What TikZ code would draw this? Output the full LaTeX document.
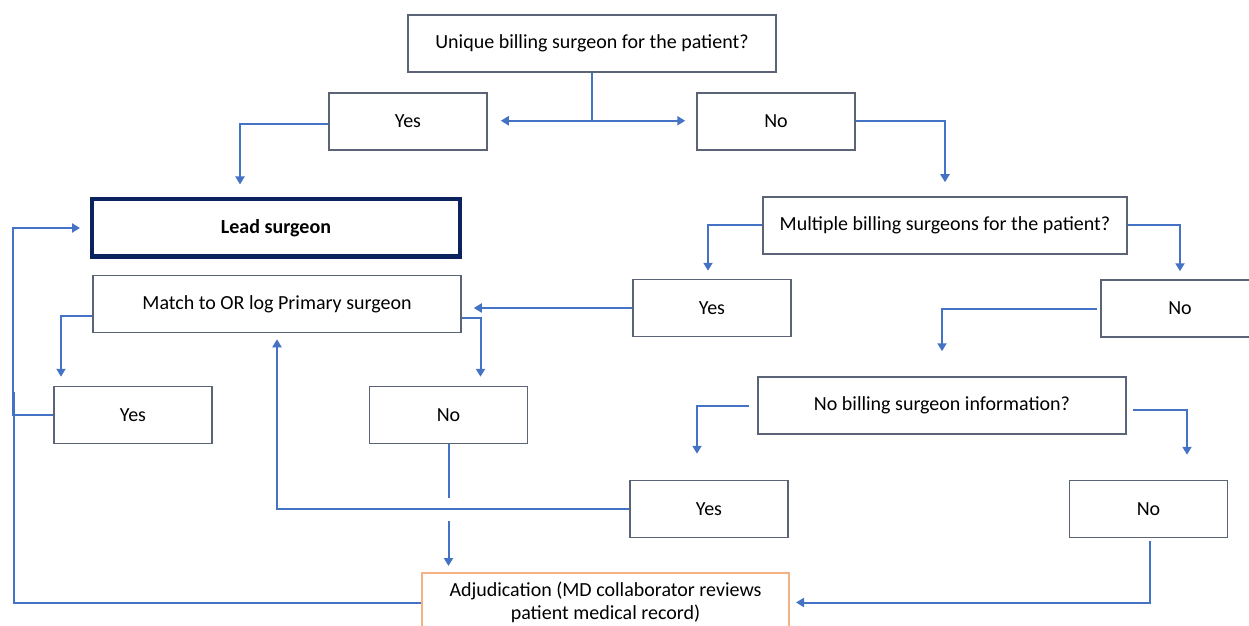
\documentclass[tikz,border=0pt]{standalone}
\usepackage{fontspec}
\setmainfont{Carlito}
\usetikzlibrary{arrows.meta}
\definecolor{flowblue}{RGB}{68,114,196}
\definecolor{flowgray}{RGB}{90,100,118}
\definecolor{flownavy}{RGB}{10,34,94}
\definecolor{floworange}{RGB}{244,177,131}
\tikzset{
  box/.style={draw=flowgray,line width=0.75pt,minimum width=79pt,minimum height=28.5pt,
    inner sep=0pt,align=center,font=\fontsize{10}{11.5}\selectfont},
  widebox/.style={box,minimum width=184pt},
  leadbox/.style={widebox,draw=flownavy,line width=2pt,font=\fontsize{10}{11.5}\selectfont\bfseries},
  adjbox/.style={widebox,draw=floworange,line width=1pt,minimum width=183.5pt,minimum height=29.5pt},
  link/.style={flowblue,line width=1pt},
  arrowlink/.style={link,-{Triangle[length=4pt,width=4.5pt]}}
}
\begin{document}
\begin{tikzpicture}[x=0.5pt,y=-0.5pt]
  \useasboundingbox (0,0) rectangle (1249,626);
  % question boxes
  \node[widebox] (q1) at (592,43.5) {Unique billing surgeon for the patient?};
  \node[widebox,minimum width=182pt] (q2) at (945,225.5) {Multiple billing surgeons for the patient?};
  \node[widebox] (q3) at (942,405.5) {No billing surgeon information?};
  % answer boxes
  \node[box] (yesA) at (408,121.5) {Yes};
  \node[box] (noA) at (776,121.5) {No};
  \node[box] (yesB) at (712,308) {Yes};
  \node[box] (noB) at (1180,308.5) {No};
  \node[box] (yesC) at (133,415) {Yes};
  \node[box] (noC) at (448.5,415) {No};
  \node[box] (yesD) at (709,509) {Yes};
  \node[box] (noD) at (1148.5,509) {No};
  % outcome boxes
  \node[leadbox] (lead) at (276,228) {Lead surgeon};
  \node[widebox] (match) at (277,304) {Match to OR log Primary surgeon};
  \node[adjbox] (adj) at (605.5,602.5) {Adjudication (MD collaborator reviews\\patient medical record)};
  % first split
  \draw[link] (q1.south) -- ++(0,48) coordinate (fork);
  \draw[arrowlink,shorten >=6.5pt] (fork) -- (fork -| yesA.east);
  \draw[arrowlink,shorten >=5.5pt] (fork) -- (fork -| noA.west);
  \draw[arrowlink,shorten >=6.5pt] ([yshift=-1.5pt]yesA.west) -| ([xshift=-18pt]lead.north);
  \draw[arrowlink,shorten >=7pt] (noA.east) -| (q2.north);
  % multiple surgeons
  \draw[arrowlink,shorten >=4pt] (q2.west) -| ([xshift=-2pt]yesB.north);
  \draw[arrowlink,shorten >=4pt] (q2.east) -| (noB.north);
  \draw[arrowlink,shorten >=6pt] (yesB.west) -- (yesB.west -| match.east);
  \draw[arrowlink,shorten <=1.5pt,shorten >=12.5pt] (noB.west) -| (q3.north);
  % OR log match
  \draw[arrowlink,shorten >=4.5pt] ([yshift=-6pt]match.west) -| ([xshift=-36pt]yesC.north);
  \draw[arrowlink,shorten >=4.5pt] ([yshift=-7pt]match.east) -| ([xshift=16pt]noC.north);
  \draw[arrowlink,shorten >=5pt] (yesC.west) -- ++(-40,0) |- (lead.west);
  \coordinate (rail) at (14,392);
  \draw[link] (adj.west) -| (rail);
  \draw[link] (noC.south) -- ++(0,54) coordinate (gapA);
  \draw[arrowlink,shorten >=3pt] ([yshift=-11.5pt]gapA) -- (gapA |- adj.north);
  % no billing information
  \draw[arrowlink,shorten <=4pt,shorten >=13pt] (q3.west) -| ([xshift=-6pt]yesD.north);
  \draw[arrowlink,shorten <=3pt,shorten >=12.5pt] ([yshift=-2pt]q3.east) -| ([xshift=19.25pt]noD.north);
  \draw[arrowlink,shorten >=3pt] (yesD.west) -| (match.south);
  \draw[arrowlink,shorten <=1.5pt,shorten >=3pt] ([xshift=0.75pt]noD.south) |- (adj.east);
\end{tikzpicture}
\end{document}
